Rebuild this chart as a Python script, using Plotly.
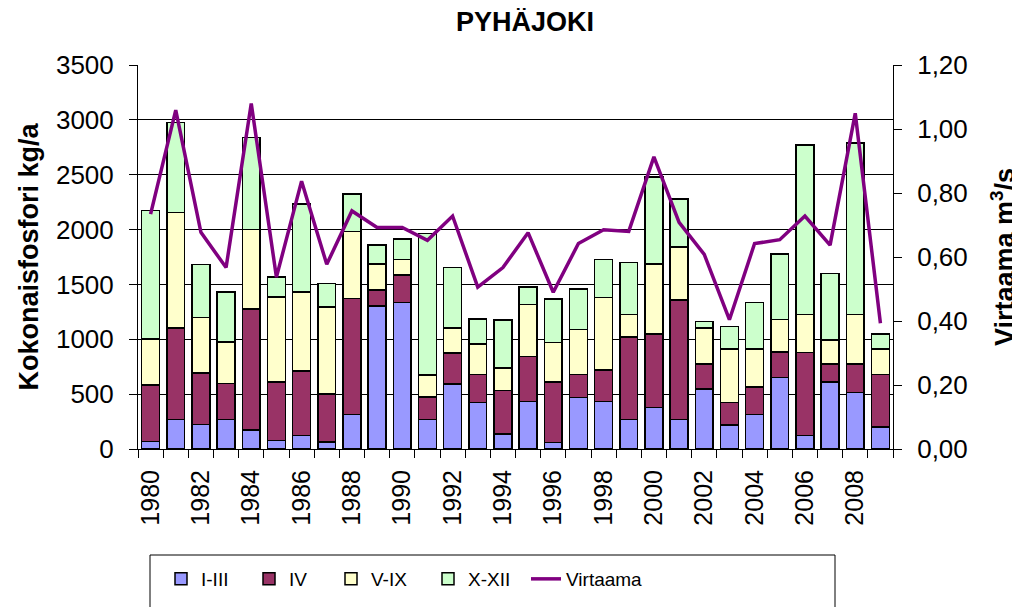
import plotly.graph_objects as go

years = list(range(1980, 2010))
i_iii = [67, 268, 222, 268, 173, 79, 125, 64, 313, 1303,
         1336, 268, 593, 426, 137, 435, 61, 469, 435, 268,
         380, 268, 545, 219, 313, 654, 122, 612, 517, 201]
iv = [517, 834, 469, 329, 1105, 533, 584, 438, 1057, 146,
      250, 204, 284, 253, 396, 408, 551, 210, 286, 755,
      670, 1092, 228, 207, 253, 229, 758, 161, 256, 478]
v_ix = [420, 1053, 508, 377, 722, 773, 724, 791, 611, 237,
        140, 204, 225, 280, 207, 472, 359, 408, 661, 204,
        636, 481, 329, 484, 344, 298, 347, 219, 454, 231]
x_xii = [1169, 822, 484, 456, 837, 185, 801, 217, 344, 174,
         188, 1290, 551, 225, 438, 161, 396, 371, 347, 474,
         794, 439, 61, 207, 426, 596, 1543, 609, 1561, 140]
virtaama = [0.734, 1.059, 0.677, 0.567, 1.080, 0.537, 0.837, 0.577, 0.744, 0.692,
            0.692, 0.652, 0.728, 0.506, 0.567, 0.676, 0.490, 0.642, 0.685, 0.680,
            0.913, 0.708, 0.608, 0.404, 0.642, 0.654, 0.728, 0.637, 1.049, 0.393]
tick_years = list(range(1980, 2010, 2))

FONT = "Liberation Sans, Arial, sans-serif"
series = [("I-III", i_iii, "#9999FF"), ("IV", iv, "#993366"),
          ("V-IX", v_ix, "#FFFFCC"), ("X-XII", x_xii, "#CCFFCC")]

# page body adds an 8px offset; layout is expressed in screen pixels minus that
OFF = 8
W, H = 1020 - OFF, 607 - OFF
PL, PR, PT, PB = 138, 893, 65, 449          # plot area in screen pixels
PW, PH = PR - PL, PB - PT

def px_x(sx):
    return (sx - PL) / PW

def px_y(sy):
    return (PB - sy) / PH

legend_names = ["legend2", "legend3", "legend4", "legend5", "legend6"]
symbol_centers = [181, 269, 351, 448, 546]

fig = go.Figure()
for k, (name, vals, col) in enumerate(series):
    fig.add_trace(go.Bar(x=years, y=vals, name=name, legend=legend_names[k],
                         marker=dict(color=col, line=dict(color="black", width=1.5))))
fig.add_trace(go.Scatter(x=years, y=virtaama, name="Virtaama", mode="lines", legend=legend_names[4],
                         line=dict(color="#800080", width=3.5), yaxis="y2"))

legends = {}
for k, ln in enumerate(legend_names):
    legends[ln] = dict(orientation="h", x=px_x(symbol_centers[k] - 20), xanchor="left",
                       y=px_y(560), yanchor="top", font=dict(size=19, family=FONT),
                       bgcolor="rgba(0,0,0,0)", itemwidth=30)

fig.update_layout(
    width=W, height=H,
    margin=dict(l=PL - OFF, r=W - (PR - OFF), t=PT - OFF, b=H - (PB - OFF), autoexpand=False),
    paper_bgcolor="white", plot_bgcolor="white",
    barmode="stack", bargap=0.29,
    separators=",.",
    font=dict(family=FONT, color="black", size=26),
    title=dict(text="<b>PYHÄJOKI</b>", x=(525 - OFF) / W, xanchor="center", y=1 - (22 - OFF) / H,
               yanchor="middle", font=dict(size=27, family=FONT)),
    xaxis=dict(range=[1979.5, 2009.5], tickmode="array", tickvals=tick_years,
               ticktext=[str(y) for y in tick_years], tickangle=-90, ticks="", ticklen=0,
               showline=True, linecolor="black", linewidth=1, showgrid=False, zeroline=False,
               ticklabelstandoff=10,
               minor=dict(tick0=1979.5, dtick=1, ticks="outside", ticklen=8, tickcolor="black", tickwidth=1,
                          showgrid=False),
               tickfont=dict(size=25)),
    yaxis=dict(range=[0, 3500], dtick=500, tickformat="d", ticks="outside", ticklen=8,
               tickcolor="black", showline=True, linecolor="black", linewidth=1,
               showgrid=True, gridcolor="black", gridwidth=1, zeroline=False,
               ticklabelstandoff=10,
               title=dict(text="<b>Kokonaisfosfori kg/a</b>", font=dict(size=27), standoff=9),
               tickfont=dict(size=26)),
    yaxis2=dict(range=[0, 1.2], dtick=0.2, tickformat=".2f", overlaying="y", side="right",
                ticks="outside", ticklen=8, tickcolor="black", showline=True, linecolor="black",
                linewidth=1, showgrid=False, zeroline=False, ticklabelstandoff=10,
                title=dict(text="<b>Virtaama m<sup>3</sup>/s</b>", font=dict(size=27), standoff=30),
                tickfont=dict(size=26)),
    shapes=[dict(type="rect", xref="paper", yref="paper",
                 x0=px_x(150), x1=px_x(835), y0=px_y(555), y1=px_y(640),
                 line=dict(color="black", width=1), fillcolor="rgba(0,0,0,0)", layer="above")],
    **legends,
)
fig.write_html("out.html")
